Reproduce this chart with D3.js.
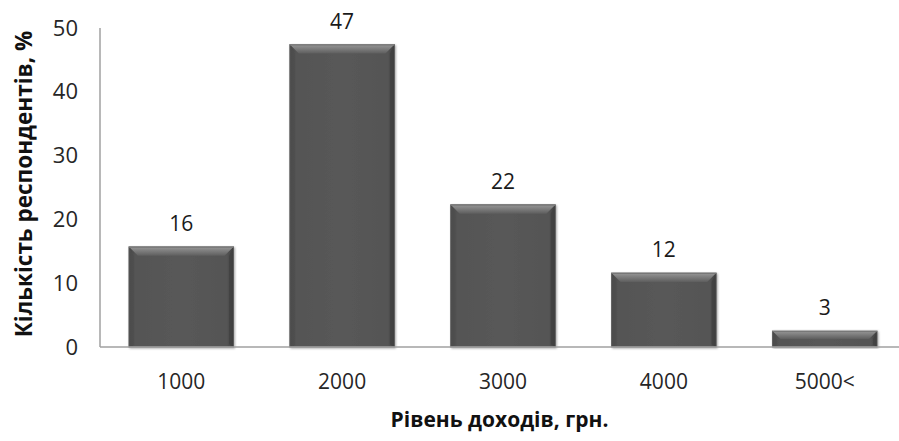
<!DOCTYPE html>
<html><head><meta charset="utf-8">
<script src="https://cdn.jsdelivr.net/npm/d3@7/dist/d3.min.js"></script>
<style>
body{margin:0;background:#fff;}
text{font-family:"Open Sans","Noto Sans",sans-serif;}
</style></head>
<body>
<svg id="chart" width="899" height="441"></svg>
<script>
const categories = ["1000", "2000", "3000", "4000", "5000<"];
const values = [15.7, 47.4, 22.3, 11.6, 2.5];
const valueLabels = ["16", "47", "22", "12", "3"];
const yTicks = [0, 10, 20, 30, 40, 50];
const yTitle = "Кількість респондентів, %";
const xTitle = "Рівень доходів, грн.";

(function(){
const svg = d3.select("#chart");
const W = 899, H = 441;
const mLeft = 100, mRight = 906, mTop = 28, mBottom = 347;

const x = d3.scaleBand().domain(categories).range([mLeft, mRight]).paddingInner(0.35).paddingOuter(0.18);
const y = d3.scaleLinear().domain([0, 50]).range([mBottom, mTop]);

const defs = svg.append("defs");
const g1 = defs.append("linearGradient").attr("id","body").attr("x1","0").attr("x2","1").attr("y1","0").attr("y2","0");
g1.append("stop").attr("offset","0").attr("stop-color","#474747");
g1.append("stop").attr("offset","0.06").attr("stop-color","#545454");
g1.append("stop").attr("offset","0.5").attr("stop-color","#595959");
g1.append("stop").attr("offset","0.94").attr("stop-color","#545454");
g1.append("stop").attr("offset","1").attr("stop-color","#404040");
const g2 = defs.append("linearGradient").attr("id","topbev").attr("x1","0").attr("x2","0").attr("y1","0").attr("y2","1");
g2.append("stop").attr("offset","0").attr("stop-color","#979797");
g2.append("stop").attr("offset","1").attr("stop-color","#5e5e5e");
const f = defs.append("filter").attr("id","sh").attr("x","-10%").attr("y","-10%").attr("width","120%").attr("height","120%");
f.append("feGaussianBlur").attr("in","SourceAlpha").attr("stdDeviation","1.2");
f.append("feOffset").attr("dx","0.5").attr("dy","0.5").attr("result","b");
f.append("feComponentTransfer").append("feFuncA").attr("type","linear").attr("slope","0.35");
const fm = f.append("feMerge"); fm.append("feMergeNode"); fm.append("feMergeNode").attr("in","SourceGraphic");

svg.append("line").attr("x1",mLeft).attr("x2",mLeft).attr("y1",mTop).attr("y2",mBottom).attr("stroke","#a0a0a0").attr("stroke-width",1.5);

const bars = svg.append("g").selectAll("g").data(categories).join("g");
bars.each(function(c, i){
  const gg = d3.select(this);
  const bx = x(c), bw = x.bandwidth(), by = y(values[i]), bh = y(0) - y(values[i]);
  const bev = Math.min(9, bh/2);
  gg.append("rect").attr("x",bx).attr("y",by).attr("width",bw).attr("height",bh)
    .attr("fill","url(#body)").attr("stroke","#6a6a6a").attr("stroke-width",1).attr("filter","url(#sh)");
  gg.append("path").attr("d",`M${bx},${by}L${bx+bw},${by}L${bx+bw-bev},${by+bev}L${bx+bev},${by+bev}Z`)
    .attr("fill","url(#topbev)");
  gg.append("path").attr("d",`M${bx},${by}L${bx+bev*0.5},${by+bev}L${bx+bev*0.5},${by+bh-bev*0.3}L${bx},${by+bh}Z`)
    .attr("fill","#4e4e4e").attr("opacity",0.6);
  gg.append("path").attr("d",`M${bx+bw},${by}L${bx+bw-bev*0.5},${by+bev}L${bx+bw-bev*0.5},${by+bh-bev*0.3}L${bx+bw},${by+bh}Z`)
    .attr("fill","#3e3e3e").attr("opacity",0.6);
  gg.append("line").attr("x1",bx).attr("x2",bx+bw).attr("y1",by+0.5).attr("y2",by+0.5).attr("stroke","#777").attr("stroke-width",1);
  gg.append("text").attr("x",bx+bw/2).attr("y",by-16).attr("text-anchor","middle")
    .attr("font-size",21).attr("fill","#1a1a1a").text(valueLabels[i]);
});

svg.append("line").attr("x1",mLeft).attr("x2",W).attr("y1",mBottom).attr("y2",mBottom).attr("stroke","#a0a0a0").attr("stroke-width",1.5);

const yAxis = d3.axisLeft(y).tickValues(yTicks).tickSize(0).tickPadding(22).tickFormat(d3.format("d"));
const ya = svg.append("g").attr("transform",`translate(${mLeft},0)`).call(yAxis);
ya.select(".domain").remove();
ya.selectAll("text").attr("font-size",22).attr("fill","#262626").attr("font-family","'Open Sans',sans-serif");

const xAxis = d3.axisBottom(x).tickSize(0).tickPadding(27);
const xa = svg.append("g").attr("transform",`translate(0,${mBottom})`).call(xAxis);
xa.select(".domain").remove();
xa.selectAll("text").attr("font-size",21).attr("fill","#262626").attr("font-family","'Open Sans',sans-serif");

svg.append("text").attr("transform",`translate(32,184) rotate(-90)`).attr("text-anchor","middle")
  .attr("font-size",22.5).attr("font-weight","bold").attr("fill","#111").text(yTitle);
svg.append("text").attr("x",(mLeft+W)/2).attr("y",427).attr("text-anchor","middle")
  .attr("font-size",21).attr("font-weight","bold").attr("fill","#111").text(xTitle);
})();
</script>
</body></html>
